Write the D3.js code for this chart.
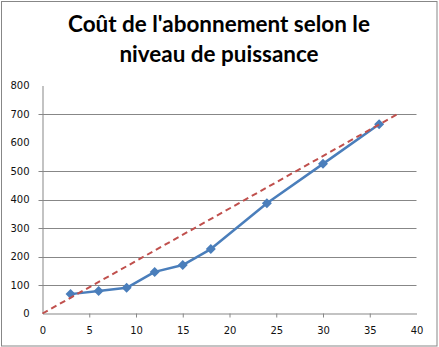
<!DOCTYPE html>
<html>
<head>
<meta charset="utf-8">
<script src="https://cdn.jsdelivr.net/npm/d3@7"></script>
<style>
  html, body { margin: 0; padding: 0; background: #fff; }
  svg { display: block; }
</style>
</head>
<body>
<script>
// dimensions du graphique
const W = 439, H = 347;
const PLOT = { LEFT: 42.5, RIGHT: 416.5, TOP: 85.5, BOTTOM: 313.5 };

// données
const puissance = [3, 6, 9, 12, 15, 18, 24, 30, 36];
const cout = [68, 79, 90, 146, 170, 226, 387, 525, 664];
const tendanceX = [0, 38];
const tendanceY = [0, 700];
const xTicks = [0, 5, 10, 15, 20, 25, 30, 35, 40];
const yTicks = [0, 100, 200, 300, 400, 500, 600, 700, 800];
const gridVisibles = [100, 200, 300, 400, 500, 700];
const titre = ["Coût de l'abonnement selon le", "niveau de puissance"];

const svg = d3.select("body").append("svg")
  .attr("width", W)
  .attr("height", H);

// cadre extérieur
svg.append("rect")
  .attr("x", 1.5).attr("y", 1.5)
  .attr("width", 435.5).attr("height", 344.5)
  .attr("fill", "#fff")
  .attr("stroke", "#878787")
  .attr("stroke-width", 1);

const x = d3.scaleLinear().domain([0, 40]).range([PLOT.LEFT, PLOT.RIGHT]);
const y = d3.scaleLinear().domain([0, 800]).range([PLOT.BOTTOM, PLOT.TOP]);

// titre sur deux lignes
const t = svg.append("text")
  .attr("text-anchor", "middle")
  .attr("font-family", "Lato, 'Open Sans', sans-serif")
  .attr("font-weight", "bold")
  .attr("font-size", 20)
  .attr("fill", "#000");
t.selectAll("tspan").data(titre).join("tspan")
  .attr("x", 219)
  .attr("y", (d, i) => 32 + i * 30)
  .text(d => d);
// ajuster la taille pour la largeur de la première ligne
const l1 = t.select("tspan").node().getComputedTextLength();
t.attr("font-size", 20 * 302 / l1);

// lignes de quadrillage
svg.append("g")
  .selectAll("line")
  .data(gridVisibles)
  .join("line")
  .attr("x1", PLOT.LEFT - 4)
  .attr("x2", PLOT.RIGHT)
  .attr("y1", d => Math.round(y(d)) + 0.5)
  .attr("y2", d => Math.round(y(d)) + 0.5)
  .attr("stroke", "#878787");

// axe vertical
const axeY = svg.append("g")
  .attr("transform", `translate(${PLOT.LEFT},0)`)
  .call(d3.axisLeft(y).tickValues(yTicks).tickSize(0).tickPadding(13).tickSizeOuter(0));
axeY.select(".domain").attr("stroke", "#878787");
axeY.selectAll("text")
  .attr("font-family", "'DejaVu Sans', Verdana, sans-serif")
  .attr("font-size", 10)
  .attr("fill", "#111");

// axe horizontal
const axeX = svg.append("g")
  .attr("transform", `translate(0,${PLOT.BOTTOM})`)
  .call(d3.axisBottom(x).tickValues(xTicks).tickSize(4).tickPadding(9).tickSizeOuter(0));
axeX.select(".domain").attr("stroke", "#878787");
axeX.selectAll("line")
  .attr("stroke", "#878787")
  .attr("opacity", d => (d === 0 || d === 40) ? 0 : 1);
axeX.selectAll("text")
  .attr("font-family", "'DejaVu Sans', Verdana, sans-serif")
  .attr("font-size", 10)
  .attr("fill", "#111");

// série principale
const points = puissance.map((p, i) => [p, cout[i]]);
svg.append("path")
  .datum(points)
  .attr("fill", "none")
  .attr("stroke", "#4A7EBB")
  .attr("stroke-width", 2.5)
  .attr("stroke-linejoin", "round")
  .attr("d", d3.line().x(d => x(d[0])).y(d => y(d[1])));

svg.append("g")
  .selectAll("path")
  .data(points)
  .join("path")
  .attr("transform", d => `translate(${x(d[0])},${y(d[1])}) rotate(45)`)
  .attr("d", d3.symbol(d3.symbolSquare, 50))
  .attr("fill", "#4A7EBB");

// droite de tendance en pointillés
const tendance = tendanceX.map((v, i) => [v, tendanceY[i]]);
svg.append("path")
  .datum(tendance)
  .attr("fill", "none")
  .attr("stroke", "#C0504D")
  .attr("stroke-width", 2)
  .attr("stroke-dasharray", "6,4")
  .attr("d", d3.line().x(d => x(d[0])).y(d => y(d[1])));
</script>
</body>
</html>
